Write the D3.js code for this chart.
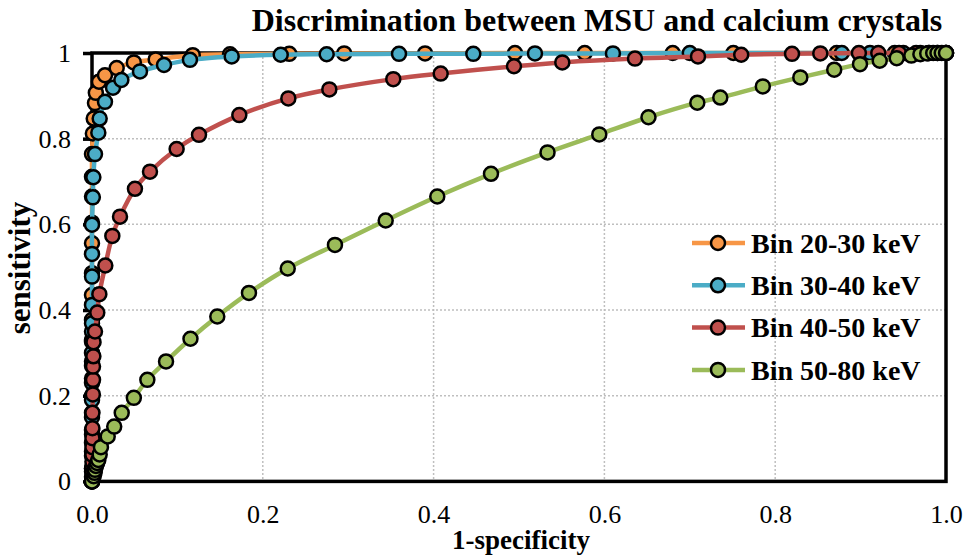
<!DOCTYPE html>
<html>
<head>
<meta charset="utf-8">
<script src="https://cdn.jsdelivr.net/npm/d3@7"></script>
<style>
  body { margin: 0; background: #ffffff; }
  svg { display: block; font-family: "Liberation Serif", "Times New Roman", serif; }
</style>
</head>
<body>
<svg id="chart" width="965" height="556"></svg>
<script>
// ROC curves: [1-specificity, sensitivity] for each energy bin
const seriesNames = ["Bin 20-30 keV", "Bin 30-40 keV", "Bin 40-50 keV", "Bin 50-80 keV"];
const seriesColors = ["#F79646", "#4BACC6", "#C0504D", "#9BBB59"];

const bin2030 = [
  [0, 0], [0, 0.03], [0, 0.06], [0, 0.09], [0, 0.12], [0, 0.16], [0, 0.2], [0, 0.24],
  [0, 0.28], [0, 0.33], [0, 0.377], [0, 0.435], [0, 0.486], [0, 0.556], [0, 0.604],
  [0, 0.665], [0, 0.711], [0, 0.764], [0.001, 0.812], [0.002, 0.847], [0.0035, 0.883],
  [0.0045, 0.907], [0.0082, 0.933], [0.0152, 0.948], [0.0289, 0.965], [0.049, 0.978],
  [0.0746, 0.985], [0.118, 0.995], [0.1616, 0.997], [0.231, 0.998], [0.2953, 0.999],
  [0.39, 0.999], [0.4953, 1], [0.577, 1], [0.68, 1], [0.751, 1], [0.872, 1],
  [0.94, 1], [0.97, 1], [1, 1]
];

const bin3040 = [
  [0, 0], [0, 0.03], [0, 0.07], [0, 0.11], [0, 0.15], [0, 0.19], [0, 0.23], [0, 0.27],
  [0, 0.3], [0, 0.326], [0, 0.35], [0, 0.369], [0, 0.412], [0, 0.478], [0, 0.531],
  [0, 0.599], [0.001, 0.663], [0.0016, 0.71], [0.0035, 0.764], [0.0074, 0.814],
  [0.009, 0.847], [0.0152, 0.886], [0.0246, 0.919], [0.0344, 0.937], [0.0562, 0.957],
  [0.0843, 0.972], [0.1147, 0.984], [0.1636, 0.992], [0.221, 0.996], [0.2748, 0.997],
  [0.3595, 0.998], [0.4465, 0.998], [0.5187, 0.999], [0.61, 0.999], [0.70, 1],
  [0.878, 1], [0.911, 1], [0.95, 1], [0.98, 1], [1, 1]
];

const bin4050 = [
  [0, 0], [0, 0.011], [0, 0.023], [0.0005, 0.035], [0.0005, 0.046], [0.0005, 0.062],
  [0.0005, 0.08], [0.0005, 0.101], [0.0005, 0.124], [0.0005, 0.16], [0.001, 0.203],
  [0.0012, 0.237], [0.0012, 0.268], [0.0016, 0.292], [0.0018, 0.325], [0.0035, 0.35],
  [0.0062, 0.394], [0.0086, 0.437], [0.0156, 0.504], [0.0238, 0.573], [0.0328, 0.618],
  [0.0503, 0.683], [0.0679, 0.723], [0.0991, 0.776], [0.1253, 0.809], [0.1725, 0.855],
  [0.2299, 0.894], [0.2779, 0.915], [0.3528, 0.939], [0.4083, 0.952], [0.4941, 0.969],
  [0.5507, 0.978], [0.6358, 0.987], [0.7096, 0.992], [0.7602, 0.996], [0.8197, 0.998],
  [0.8528, 0.999], [0.898, 1], [0.9207, 1], [0.945, 1], [0.965, 1], [0.98, 1],
  [0.99, 1], [1, 1]
];

const bin5080 = [
  [0, 0], [0.002, 0.012], [0.003, 0.02], [0.0035, 0.027], [0.0047, 0.036], [0.006, 0.043],
  [0.0074, 0.05], [0.009, 0.063], [0.0105, 0.08], [0.0184, 0.105], [0.026, 0.128],
  [0.0348, 0.16], [0.049, 0.195], [0.0648, 0.237], [0.0867, 0.28], [0.1153, 0.333],
  [0.1467, 0.385], [0.1838, 0.44], [0.2292, 0.497], [0.2845, 0.552], [0.3439, 0.609],
  [0.4043, 0.665], [0.4672, 0.718], [0.5334, 0.768], [0.594, 0.81], [0.6516, 0.85],
  [0.7088, 0.884], [0.7357, 0.896], [0.7855, 0.922], [0.8294, 0.943], [0.8691, 0.961],
  [0.8993, 0.974], [0.9224, 0.982], [0.9423, 0.988], [0.9594, 0.994], [0.970, 0.997],
  [0.978, 0.999], [0.985, 1], [0.99, 1], [0.995, 1], [1, 1]
];

const seriesData = [bin2030, bin3040, bin4050, bin5080];

const xTicks = [0, 0.2, 0.4, 0.6, 0.8, 1.0];
const yTicks = [0, 0.2, 0.4, 0.6, 0.8, 1];
const xTickLabels = ["0.0", "0.2", "0.4", "0.6", "0.8", "1.0"];
const yTickLabels = ["0", "0.2", "0.4", "0.6", "0.8", "1"];

const titleText = "Discrimination between MSU and calcium crystals";
const xTitle = "1-specificity";
const yTitle = "sensitivity";

// ---- layout ----
const W = 965, H = 556;
const margin = { top: 53, right: 19, bottom: 74.6, left: 92 };
const plotW = W - margin.left - margin.right;
const plotH = H - margin.top - margin.bottom;
const serif = "Liberation Serif, Times New Roman, serif";

const svg = d3.select("#chart");
svg.append("rect").attr("width", W).attr("height", H).attr("fill", "#ffffff");

const g = svg.append("g").attr("transform", `translate(${margin.left},${margin.top})`);

const x = d3.scaleLinear().domain([0, 1]).range([0, plotW]);
const y = d3.scaleLinear().domain([0, 1]).range([plotH, 0]);

// dotted gridlines
g.append("g")
  .attr("class", "grid-x")
  .selectAll("line")
  .data(xTicks.filter(t => t > 0 && t < 1))
  .join("line")
  .attr("x1", d => x(d)).attr("x2", d => x(d))
  .attr("y1", 0).attr("y2", plotH)
  .attr("stroke", "#BFBFBF").attr("stroke-width", 1.5).attr("stroke-dasharray", "2,2");

g.append("g")
  .attr("class", "grid-y")
  .selectAll("line")
  .data(yTicks.filter(t => t > 0 && t < 1))
  .join("line")
  .attr("x1", 0).attr("x2", plotW)
  .attr("y1", d => y(d)).attr("y2", d => y(d))
  .attr("stroke", "#BFBFBF").attr("stroke-width", 1.5).attr("stroke-dasharray", "2,2");

// plot frame
g.append("rect")
  .attr("x", 0).attr("y", 0).attr("width", plotW).attr("height", plotH)
  .attr("fill", "none").attr("stroke", "#000").attr("stroke-width", 3.5);

// axes
const yAxis = d3.axisLeft(y)
  .tickValues(yTicks)
  .tickFormat((d, i) => yTickLabels[i])
  .tickSize(9)
  .tickPadding(12);
const yAxisG = g.append("g").attr("class", "y-axis").call(yAxis);
yAxisG.attr("font-family", serif);
yAxisG.select(".domain").remove();
yAxisG.selectAll(".tick line").attr("stroke", "#000").attr("stroke-width", 3.5);
yAxisG.selectAll(".tick text")
  .attr("font-family", serif)
  .attr("font-size", 26).attr("fill", "#000");

const xAxis = d3.axisBottom(x)
  .tickValues(xTicks)
  .tickFormat((d, i) => xTickLabels[i])
  .tickSize(0)
  .tickPadding(23);
const xAxisG = g.append("g").attr("class", "x-axis")
  .attr("transform", `translate(0,${plotH})`).call(xAxis);
xAxisG.attr("font-family", serif);
xAxisG.select(".domain").remove();
xAxisG.selectAll(".tick text")
  .attr("font-family", serif)
  .attr("font-size", 26).attr("fill", "#000");

// curves and markers
const line = d3.line()
  .x(d => x(d[0]))
  .y(d => y(d[1]))
  .curve(d3.curveCatmullRom.alpha(0.5));

seriesData.forEach((data, i) => {
  const sg = g.append("g").attr("class", "series series-" + i);
  sg.append("path")
    .datum(data)
    .attr("d", line)
    .attr("fill", "none")
    .attr("stroke", seriesColors[i])
    .attr("stroke-width", 4.5)
    .attr("stroke-linejoin", "round")
    .attr("stroke-linecap", "round");
  sg.selectAll("circle")
    .data(data)
    .join("circle")
    .attr("cx", d => x(d[0]))
    .attr("cy", d => y(d[1]))
    .attr("r", 7)
    .attr("fill", seriesColors[i])
    .attr("stroke", "#000")
    .attr("stroke-width", 2.5);
});

// legend
const legend = svg.append("g").attr("class", "legend");
const legendY0 = 243, legendStep = 42.3;
seriesNames.forEach((name, i) => {
  const ly = legendY0 + i * legendStep;
  const lg = legend.append("g").attr("transform", `translate(0,${ly})`);
  lg.append("line")
    .attr("x1", 692).attr("x2", 745).attr("y1", 0).attr("y2", 0)
    .attr("stroke", seriesColors[i]).attr("stroke-width", 4.5);
  lg.append("circle")
    .attr("cx", 718).attr("cy", 0).attr("r", 7)
    .attr("fill", seriesColors[i]).attr("stroke", "#000").attr("stroke-width", 2.5);
  lg.append("text")
    .attr("x", 751).attr("y", 0).attr("dy", "0.35em")
    .attr("font-size", 28).attr("font-weight", "bold").attr("fill", "#000")
    .text(name);
});

// titles
svg.append("text")
  .attr("x", 597).attr("y", 31)
  .attr("text-anchor", "middle")
  .attr("font-size", 32).attr("font-weight", "bold").attr("fill", "#000")
  .text(titleText);

svg.append("text")
  .attr("x", 521).attr("y", 549)
  .attr("text-anchor", "middle")
  .attr("font-size", 27).attr("font-weight", "bold").attr("fill", "#000")
  .text(xTitle);

svg.append("text")
  .attr("transform", "translate(30,268) rotate(-90)")
  .attr("text-anchor", "middle")
  .attr("font-size", 31).attr("font-weight", "bold").attr("fill", "#000")
  .text(yTitle);
</script>
</body>
</html>
